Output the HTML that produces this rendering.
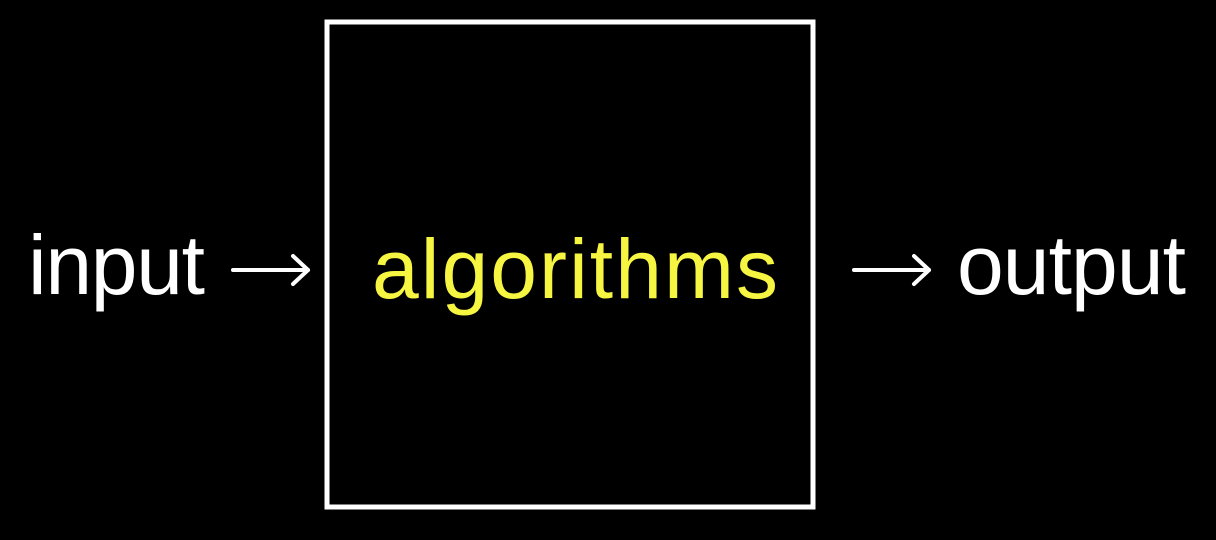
<!DOCTYPE html>
<html><head><meta charset="utf-8"><style>
html,body{margin:0;padding:0;background:#000;width:1216px;height:540px;overflow:hidden}
svg{display:block}
text{font-family:"Liberation Sans",sans-serif;font-size:84px}
</style></head><body>
<svg width="1216" height="540">
<rect x="327" y="22" width="486" height="485" fill="none" stroke="#fff" stroke-width="5"/>
<text x="28" y="294" fill="#fff" textLength="177">input</text>
<g stroke="#fff" stroke-width="4" fill="none" stroke-linecap="round" stroke-linejoin="round">
<line x1="233" y1="270" x2="308" y2="270"/><polyline points="293,256 308,270 293,284"/></g>
<text x="372" y="298" fill="#f5f542" font-size="87" textLength="406">algorithms</text>
<g stroke="#fff" stroke-width="4" fill="none" stroke-linecap="round" stroke-linejoin="round">
<line x1="854" y1="270" x2="929" y2="270"/><polyline points="914,256 929,270 914,284"/></g>
<text x="957" y="294" fill="#fff" textLength="229">output</text>
</svg>
</body></html>
